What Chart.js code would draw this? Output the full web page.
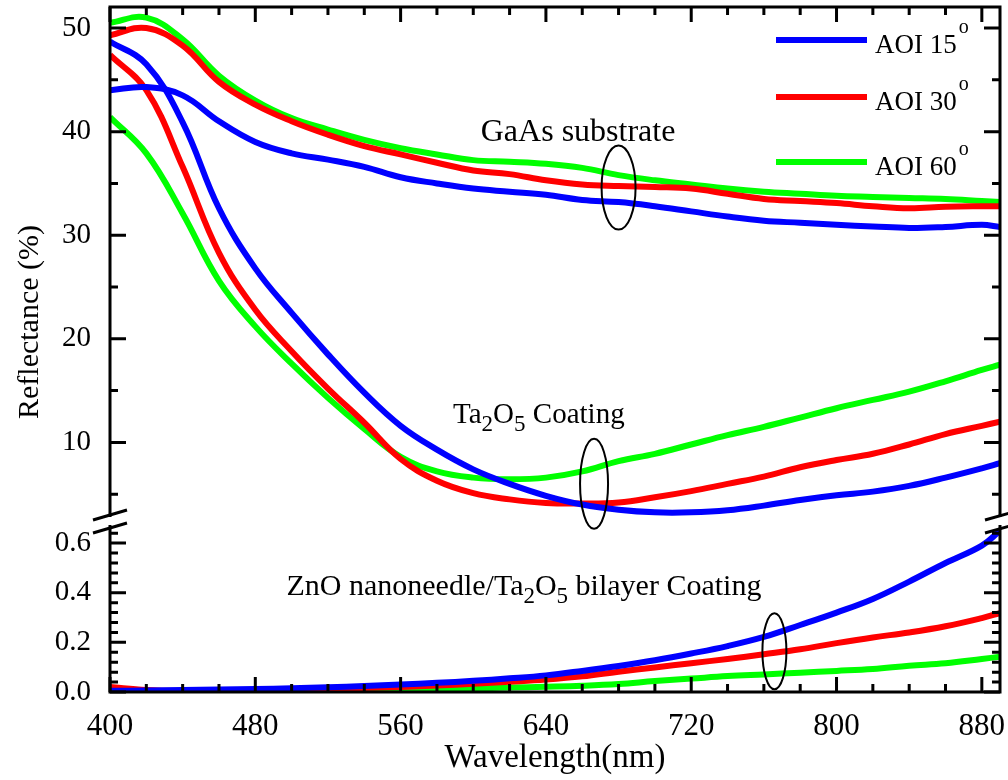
<!DOCTYPE html>
<html>
<head>
<meta charset="utf-8">
<script src="https://cdn.jsdelivr.net/npm/chart.js@4.4.1/dist/chart.umd.min.js"></script>
<style>
  html, body { margin: 0; padding: 0; background: #ffffff; }
  #wrap { width: 1008px; height: 780px; }
</style>
</head>
<body>
<div id="wrap"><canvas id="graph"></canvas></div>
<script>
// wavelength (nm)
const wavelength = [400,420,440,460,480,500,520,540,560,580,600,620,640,660,680,700,720,740,760,780,800,820,840,860,880,890];

// GaAs substrate, reflectance (%)
const gaas15 = [44.0,44.3,43.5,41.0,39.0,37.9,37.3,36.6,35.6,35.0,34.5,34.2,33.9,33.4,33.2,32.8,32.3,31.8,31.4,31.2,31.0,30.85,30.7,30.8,31.0,30.8];
const gaas30 = [49.3,50.0,48.3,44.8,42.6,41.0,39.7,38.6,37.8,37.0,36.25,35.9,35.3,34.9,34.75,34.65,34.5,34.0,33.5,33.3,33.1,32.8,32.6,32.75,32.8,32.8];
const gaas60 = [50.5,51.0,48.9,45.4,43.0,41.3,40.2,39.2,38.4,37.8,37.25,37.1,36.9,36.5,35.8,35.3,34.9,34.5,34.2,34.0,33.8,33.7,33.6,33.5,33.3,33.2];

// Ta2O5 coating
const ta15 = [48.7,46.5,40.9,32.6,26.8,22.5,18.5,14.8,11.6,9.3,7.4,6.0,4.85,4.0,3.5,3.25,3.25,3.45,3.9,4.45,4.9,5.25,5.8,6.6,7.5,8.0];
const ta30 = [47.4,44.0,36.6,28.3,22.8,18.8,15.2,11.9,8.4,6.3,5.1,4.5,4.15,4.1,4.2,4.7,5.3,6.0,6.7,7.6,8.3,8.9,9.8,10.8,11.6,12.0];
const ta60 = [41.4,37.9,32.1,25.6,21.2,17.6,14.3,11.3,8.6,7.2,6.6,6.45,6.6,7.2,8.2,8.9,9.8,10.7,11.5,12.4,13.3,14.1,14.9,15.9,17.0,17.5];

// ZnO nanoneedle / Ta2O5 bilayer coating
const zno15 = [0.005,0.006,0.008,0.010,0.012,0.015,0.019,0.024,0.030,0.037,0.045,0.055,0.067,0.085,0.105,0.128,0.155,0.185,0.222,0.27,0.32,0.375,0.445,0.52,0.59,0.65];
const zno30 = [0.020,0.008,0.004,0.005,0.007,0.009,0.012,0.016,0.020,0.026,0.033,0.041,0.050,0.063,0.082,0.099,0.116,0.133,0.152,0.172,0.197,0.22,0.24,0.265,0.298,0.318];
const zno60 = [0.006,0.003,0.002,0.002,0.003,0.004,0.005,0.007,0.009,0.012,0.015,0.018,0.021,0.025,0.032,0.044,0.054,0.064,0.071,0.078,0.085,0.093,0.106,0.116,0.133,0.142];

const legendNames = ['AOI 15', 'AOI 30', 'AOI 60'];
const colors = ['#0000ff', '#ff0000', '#00ff00'];

const SERIF = '"Liberation Serif", "Times New Roman", serif';

function pts(vals) {
    return wavelength.map((w, i) => ({ x: w, y: vals[i] }));
}

function line(vals, c, axis) {
    return {
        data: pts(vals),
        borderColor: colors[c],
        backgroundColor: colors[c],
        borderWidth: 6,
        pointRadius: 0,
        tension: 0.4,
        yAxisID: axis
    };
}

// text with sub/superscripts: parts = [[text, kind]]
function richText(ctx, parts, cx, y, size) {
    const small = Math.round(size * 0.78);
    let total = 0;
    parts.forEach(p => {
        ctx.font = (p[1] === 'n' ? size : small) + 'px ' + SERIF;
        total += ctx.measureText(p[0]).width;
    });
    let x = cx - total / 2;
    ctx.textAlign = 'left';
    ctx.textBaseline = 'alphabetic';
    parts.forEach(p => {
        ctx.font = (p[1] === 'n' ? size : small) + 'px ' + SERIF;
        let dy = 0;
        if (p[1] === 'sub') dy = size * 0.28;
        if (p[1] === 'sup') dy = -size * 0.6;
        ctx.fillText(p[0], x, y + dy);
        x += ctx.measureText(p[0]).width;
    });
}

function noPad(scale) {
    scale.paddingTop = 0;
    scale.paddingBottom = 0;
    scale.paddingLeft = 0;
    scale.paddingRight = 0;
}

const framePlugin = {
    id: 'frame',
    afterDatasetsDraw(chart) {
        const ctx = chart.ctx;
        const xs = chart.scales.x, yt = chart.scales.y, yb = chart.scales.y2;
        const L = chart.chartArea.left, R = chart.chartArea.right;
        const T = yt.top, B = yb.bottom;
        ctx.save();
        ctx.strokeStyle = '#000';
        ctx.lineWidth = 3;
        ctx.lineCap = 'butt';
        ctx.beginPath();
        // top and bottom
        ctx.moveTo(L - 1.5, T); ctx.lineTo(R + 1.5, T);
        ctx.moveTo(L - 1.5, B); ctx.lineTo(R + 1.5, B);
        // left / right, broken
        ctx.moveTo(L, T); ctx.lineTo(L, yt.bottom);
        ctx.moveTo(L, yb.top); ctx.lineTo(L, B);
        ctx.moveTo(R, T); ctx.lineTo(R, yt.bottom);
        ctx.moveTo(R, yb.top); ctx.lineTo(R, B);
        ctx.stroke();

        // x ticks, bottom and top
        ctx.beginPath();
        for (let v = 400; v <= 890; v += 20) {
            const px = xs.getPixelForValue(v);
            const len = (v - 400) % 80 === 0 ? 15 : 8;
            ctx.moveTo(px, B); ctx.lineTo(px, B - len);
            ctx.moveTo(px, T); ctx.lineTo(px, T + len);
        }
        // upper y ticks
        for (let v = 5; v <= 50; v += 5) {
            if (v < yt.min || v > yt.max) continue;
            const py = yt.getPixelForValue(v);
            const len = v % 10 === 0 ? 16 : 8;
            ctx.moveTo(L, py); ctx.lineTo(L + len, py);
            ctx.moveTo(R, py); ctx.lineTo(R - len, py);
        }
        // lower y ticks
        for (let i = 0; i <= 16; i++) {
            const v = i * 0.04;
            if (v > yb.max) continue;
            const py = yb.getPixelForValue(v);
            const len = i % 5 === 0 ? 16 : 8;
            ctx.moveTo(L, py); ctx.lineTo(L + len, py);
            ctx.moveTo(R, py); ctx.lineTo(R - len, py);
        }
        ctx.stroke();

        // axis break marks
        ctx.beginPath();
        ctx.moveTo(L - 17, yt.bottom + 3); ctx.lineTo(L + 17, yt.bottom - 7);
        ctx.moveTo(L - 17, yb.top + 8); ctx.lineTo(L + 17, yb.top - 2);
        ctx.moveTo(R - 15, yt.bottom + 3); ctx.lineTo(R + 10, yt.bottom - 4);
        ctx.moveTo(R - 15, yb.top + 8); ctx.lineTo(R + 10, yb.top + 1);
        ctx.stroke();

        ctx.fillStyle = '#000';
        // x tick labels, on a fixed baseline under the axis
        ctx.font = '31px ' + SERIF;
        ctx.textAlign = 'center';
        ctx.textBaseline = 'alphabetic';
        xs.ticks.forEach(t => {
            ctx.fillText(String(t.value), xs.getPixelForValue(t.value), B + 43);
        });

        // y title
        ctx.font = '30px ' + SERIF;
        ctx.textAlign = 'center';
        ctx.textBaseline = 'middle';
        ctx.translate(30, 322);
        ctx.rotate(-Math.PI / 2);
        ctx.fillText('Reflectance (%)', 0, 0);
        ctx.restore();
    }
};

const notesPlugin = {
    id: 'notes',
    afterDatasetsDraw(chart) {
        const ctx = chart.ctx;
        const xs = chart.scales.x, yt = chart.scales.y, yb = chart.scales.y2;
        ctx.save();
        ctx.strokeStyle = '#000';
        ctx.fillStyle = '#000';
        ctx.lineWidth = 2;
        const rings = [
            [xs.getPixelForValue(680), yt.getPixelForValue(34.6), 17, 42],
            [xs.getPixelForValue(666.5), yt.getPixelForValue(6.0), 14, 45],
            [xs.getPixelForValue(765.8), yb.getPixelForValue(0.164), 12, 38]
        ];
        rings.forEach(r => {
            ctx.beginPath();
            ctx.ellipse(r[0], r[1], r[2], r[3], 0, 0, Math.PI * 2);
            ctx.stroke();
        });
        richText(ctx, [['GaAs substrate', 'n']],
            xs.getPixelForValue(657.7), yt.getPixelForValue(39.1), 32);
        richText(ctx, [['Ta', 'n'], ['2', 'sub'], ['O', 'n'], ['5', 'sub'], [' Coating', 'n']],
            xs.getPixelForValue(636.1), yt.getPixelForValue(11.87), 29);
        richText(ctx, [['ZnO nanoneedle/Ta', 'n'], ['2', 'sub'], ['O', 'n'], ['5', 'sub'], [' bilayer Coating', 'n']],
            xs.getPixelForValue(627.9), yb.getPixelForValue(0.391), 30);

        // legend
        const rowsY = [40, 97, 162];
        legendNames.forEach((name, i) => {
            ctx.strokeStyle = colors[i];
            ctx.lineWidth = 6;
            ctx.beginPath();
            ctx.moveTo(776, rowsY[i]);
            ctx.lineTo(867, rowsY[i]);
            ctx.stroke();
            ctx.fillStyle = '#000';
            ctx.font = '27px ' + SERIF;
            ctx.textAlign = 'left';
            ctx.textBaseline = 'alphabetic';
            ctx.fillText(name, 875, rowsY[i] + 13);
            const w = ctx.measureText(name).width;
            ctx.font = '20px ' + SERIF;
            ctx.fillText('o', 875 + w + 2, rowsY[i] - 7);
        });
        ctx.restore();
    }
};

const ctx = document.getElementById('graph').getContext('2d');
new Chart(ctx, {
    type: 'line',
    data: {
        datasets: [
            line(gaas15, 0, 'y'), line(gaas30, 1, 'y'), line(gaas60, 2, 'y'),
            line(ta15, 0, 'y'), line(ta30, 1, 'y'), line(ta60, 2, 'y'),
            line(zno15, 0, 'y2'), line(zno30, 1, 'y2'), line(zno60, 2, 'y2')
        ]
    },
    options: {
        responsive: true,
        maintainAspectRatio: false,
        animation: false,
        devicePixelRatio: 1,
        layout: { padding: { top: 7, right: 8, left: 0, bottom: 0 } },
        plugins: {
            legend: { display: false },
            tooltip: { enabled: false }
        },
        scales: {
            x: {
                type: 'linear',
                position: 'bottom',
                min: 400,
                max: 890,
                grid: { display: false, drawTicks: false },
                border: { display: false },
                ticks: {
                    display: false,
                    stepSize: 80,
                    includeBounds: false,
                    autoSkip: false,
                    maxRotation: 0
                },
                title: {
                    display: true,
                    text: 'Wavelength(nm)',
                    color: '#000',
                    padding: { top: 0, bottom: 2 },
                    font: { family: SERIF, size: 33 }
                },
                afterFit(scale) { noPad(scale); scale.height = 88; }
            },
            y2: {
                type: 'linear',
                position: 'left',
                stack: 'r',
                stackWeight: 167,
                min: 0,
                max: 0.673,
                grid: { display: false, drawTicks: false },
                border: { display: false },
                ticks: {
                    stepSize: 0.2,
                    includeBounds: false,
                    autoSkip: false,
                    color: '#000',
                    padding: 19,
                    font: { family: SERIF, size: 29 },
                    callback: v => v.toFixed(1)
                },
                afterFit(scale) { noPad(scale); scale.width = 110; }
            },
            gap: {
                type: 'linear',
                position: 'left',
                stack: 'r',
                stackWeight: 8,
                display: false
            },
            y: {
                type: 'linear',
                position: 'left',
                stack: 'r',
                stackWeight: 510,
                min: 2.8,
                max: 52.03,
                grid: { display: false, drawTicks: false },
                border: { display: false },
                ticks: {
                    stepSize: 10,
                    includeBounds: false,
                    autoSkip: false,
                    color: '#000',
                    padding: 19,
                    font: { family: SERIF, size: 29 }
                },
                afterFit(scale) { noPad(scale); scale.width = 110; }
            }
        }
    },
    plugins: [framePlugin, notesPlugin]
});
</script>
</body>
</html>
